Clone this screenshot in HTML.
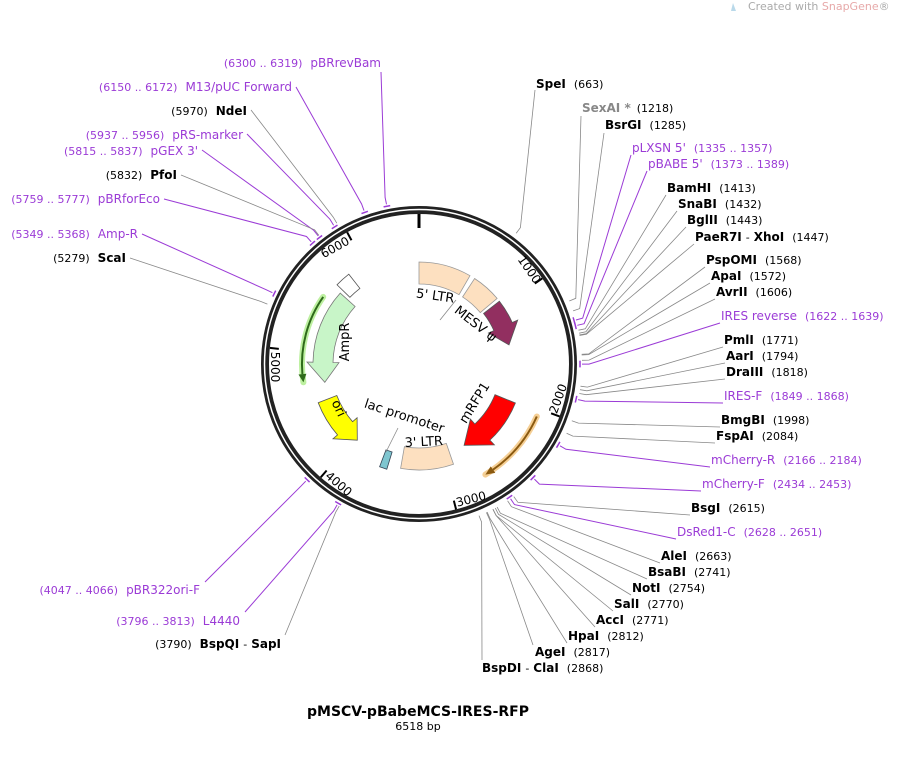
<!DOCTYPE html>
<html><head><meta charset="utf-8"><style>
html,body{margin:0;padding:0;background:#fff;width:900px;height:761px;overflow:hidden}
svg{display:block;font-family:"DejaVu Sans","Liberation Sans",sans-serif}
.n{font-weight:bold;font-size:12px;fill:#000}
.p{font-size:11px;fill:#000}
.pr{fill:#9b3bd6;font-size:12px}
.pr .p{fill:#9b3bd6}
.g{fill:#888;font-weight:bold;font-size:12px}
.in{font-size:13px;fill:#000}
</style></head><body>
<svg id="s" width="900" height="761" viewBox="0 0 900 761" xmlns="http://www.w3.org/2000/svg">
<g id="geo"></g>
<text x="748" y="10" font-size="11" fill="#aaa">Created with <tspan fill="#e7a9a9">SnapGene</tspan>®</text>
<path d="M733 3 l3 8 l-5 0 z" fill="#b9d9ea"/>

<text x="536" y="88"><tspan class="n">SpeI</tspan><tspan class="p" dx="8">(663)</tspan></text>
<text x="582" y="112"><tspan class="g">SexAI *</tspan><tspan class="p" dx="6">(1218)</tspan></text>
<text x="605" y="129"><tspan class="n">BsrGI</tspan><tspan class="p" dx="8">(1285)</tspan></text>
<text x="632" y="152" class="pr">pLXSN 5'<tspan class="p" dx="8">(1335 .. 1357)</tspan></text>
<text x="648" y="168" class="pr">pBABE 5'<tspan class="p" dx="8">(1373 .. 1389)</tspan></text>
<text x="667" y="192"><tspan class="n">BamHI</tspan><tspan class="p" dx="8">(1413)</tspan></text>
<text x="678" y="208"><tspan class="n">SnaBI</tspan><tspan class="p" dx="8">(1432)</tspan></text>
<text x="687" y="224"><tspan class="n">BglII</tspan><tspan class="p" dx="8">(1443)</tspan></text>
<text x="695" y="241"><tspan class="n">PaeR7I</tspan><tspan class="p" dx="4">-</tspan><tspan class="n" dx="4">XhoI</tspan><tspan class="p" dx="8">(1447)</tspan></text>
<text x="706" y="264"><tspan class="n">PspOMI</tspan><tspan class="p" dx="8">(1568)</tspan></text>
<text x="711" y="280"><tspan class="n">ApaI</tspan><tspan class="p" dx="8">(1572)</tspan></text>
<text x="716" y="296"><tspan class="n">AvrII</tspan><tspan class="p" dx="8">(1606)</tspan></text>
<text x="721" y="320" class="pr">IRES reverse<tspan class="p" dx="8">(1622 .. 1639)</tspan></text>
<text x="724" y="344"><tspan class="n">PmlI</tspan><tspan class="p" dx="8">(1771)</tspan></text>
<text x="726" y="360"><tspan class="n">AarI</tspan><tspan class="p" dx="8">(1794)</tspan></text>
<text x="726" y="376"><tspan class="n">DraIII</tspan><tspan class="p" dx="8">(1818)</tspan></text>
<text x="724" y="400" class="pr">IRES-F<tspan class="p" dx="8">(1849 .. 1868)</tspan></text>
<text x="721" y="424"><tspan class="n">BmgBI</tspan><tspan class="p" dx="8">(1998)</tspan></text>
<text x="716" y="440"><tspan class="n">FspAI</tspan><tspan class="p" dx="8">(2084)</tspan></text>
<text x="711" y="464" class="pr">mCherry-R<tspan class="p" dx="8">(2166 .. 2184)</tspan></text>
<text x="702" y="488" class="pr">mCherry-F<tspan class="p" dx="8">(2434 .. 2453)</tspan></text>
<text x="691" y="512"><tspan class="n">BsgI</tspan><tspan class="p" dx="8">(2615)</tspan></text>
<text x="677" y="536" class="pr">DsRed1-C<tspan class="p" dx="8">(2628 .. 2651)</tspan></text>
<text x="661" y="560"><tspan class="n">AleI</tspan><tspan class="p" dx="8">(2663)</tspan></text>
<text x="648" y="576"><tspan class="n">BsaBI</tspan><tspan class="p" dx="8">(2741)</tspan></text>
<text x="632" y="592"><tspan class="n">NotI</tspan><tspan class="p" dx="8">(2754)</tspan></text>
<text x="614" y="608"><tspan class="n">SalI</tspan><tspan class="p" dx="8">(2770)</tspan></text>
<text x="596" y="624"><tspan class="n">AccI</tspan><tspan class="p" dx="8">(2771)</tspan></text>
<text x="568" y="640"><tspan class="n">HpaI</tspan><tspan class="p" dx="8">(2812)</tspan></text>
<text x="535" y="656"><tspan class="n">AgeI</tspan><tspan class="p" dx="8">(2817)</tspan></text>
<text x="482" y="672"><tspan class="n">BspDI</tspan><tspan class="p" dx="4">-</tspan><tspan class="n" dx="4">ClaI</tspan><tspan class="p" dx="8">(2868)</tspan></text>

<g text-anchor="end">
<text x="381" y="67" class="pr"><tspan class="p">(6300 .. 6319)</tspan><tspan dx="8">pBRrevBam</tspan></text>
<text x="292" y="91" class="pr"><tspan class="p">(6150 .. 6172)</tspan><tspan dx="8">M13/pUC Forward</tspan></text>
<text x="247" y="115"><tspan class="p">(5970)</tspan><tspan class="n" dx="8">NdeI</tspan></text>
<text x="243" y="139" class="pr"><tspan class="p">(5937 .. 5956)</tspan><tspan dx="8">pRS-marker</tspan></text>
<text x="198" y="155" class="pr"><tspan class="p">(5815 .. 5837)</tspan><tspan dx="8">pGEX 3'</tspan></text>
<text x="177" y="179"><tspan class="p">(5832)</tspan><tspan class="n" dx="8">PfoI</tspan></text>
<text x="160" y="203" class="pr"><tspan class="p">(5759 .. 5777)</tspan><tspan dx="8">pBRforEco</tspan></text>
<text x="138" y="238" class="pr"><tspan class="p">(5349 .. 5368)</tspan><tspan dx="8">Amp-R</tspan></text>
<text x="126" y="262"><tspan class="p">(5279)</tspan><tspan class="n" dx="8">ScaI</tspan></text>
<text x="200" y="594" class="pr"><tspan class="p">(4047 .. 4066)</tspan><tspan dx="8">pBR322ori-F</tspan></text>
<text x="240" y="625" class="pr"><tspan class="p">(3796 .. 3813)</tspan><tspan dx="8">L4440</tspan></text>
<text x="281" y="648"><tspan class="p">(3790)</tspan><tspan class="n" dx="8">BspQI</tspan><tspan class="p" dx="4">-</tspan><tspan class="n" dx="4">SapI</tspan></text>
</g>

<g font-size="12" text-anchor="middle" fill="#000">
<text transform="translate(526,272) rotate(55)">1000</text>
<text transform="translate(562,400) rotate(-70)">2000</text>
<text transform="translate(472,503) rotate(-14)">3000</text>
<text transform="translate(336,487) rotate(41)">4000</text>
<text transform="translate(271,367) rotate(90)">5000</text>
<text transform="translate(337,251) rotate(-29)">6000</text>
</g>

<text class="in" x="416" y="300" transform="rotate(8 435 296)">5' LTR</text>
<text class="in" text-anchor="middle" transform="translate(473,327) rotate(38)">MESV ψ</text>
<text class="in" text-anchor="middle" transform="translate(349,342) rotate(-90)">AmpR</text>
<text class="in" text-anchor="middle" transform="translate(335,410) rotate(65)">ori</text>
<text class="in" text-anchor="middle" transform="translate(403,420) rotate(18)">lac promoter</text>
<text class="in" text-anchor="middle" transform="translate(424,446) rotate(-3)">3' LTR</text>
<text class="in" text-anchor="middle" transform="translate(478,405) rotate(-58)">mRFP1</text>

<text x="418" y="716" text-anchor="middle" font-weight="bold" font-size="14">pMSCV-pBabeMCS-IRES-RFP</text>
<text x="418" y="730" text-anchor="middle" font-size="11">6518 bp</text>
</svg>
<script>
(function(){
var cx=419,cy=364,NS="http://www.w3.org/2000/svg",g=document.getElementById('geo');
function P(a,r){a=a*Math.PI/180;return [cx+r*Math.sin(a),cy-r*Math.cos(a)];}
function f(p){return p[0].toFixed(1)+','+p[1].toFixed(1);}
function el(t,at){var e=document.createElementNS(NS,t);for(var k in at)e.setAttribute(k,at[k]);g.appendChild(e);return e;}
function bp(b){return b/6518*360;}
function arc(a1,a2,r){var l=Math.abs(a2-a1)>180?1:0,sw=a2>a1?1:0;return 'A'+r+','+r+' 0 '+l+' '+sw+' '+f(P(a2,r));}
function box(a1,a2,r1,r2,fill,st){el('path',{d:'M'+f(P(a1,r2))+arc(a1,a2,r2)+'L'+f(P(a2,r1))+arc(a2,a1,r1)+'Z',fill:fill,stroke:st||'#999','stroke-width':0.8});}
function arrow(a1,a2,r1,r2,h,fill,st){
 var d=a2>a1?1:-1,ab=a2-d*h,w=(r2-r1)*0.3,rm=(r1+r2)/2;
 el('path',{d:'M'+f(P(a1,r2))+arc(a1,ab,r2)+'L'+f(P(ab,r2+w))+'L'+f(P(a2,rm))+'L'+f(P(ab,r1-w))+'L'+f(P(ab,r1))+arc(ab,a1,r1)+'Z',fill:fill,stroke:st||'#555','stroke-width':0.8});}
function thin(a1,a2,r,col,glow){var d=a2>a1?1:-1,ab=a2-d*4;
 el('path',{d:'M'+f(P(a1,r))+arc(a1,a2,r),fill:'none',stroke:glow,'stroke-width':6,'stroke-linecap':'round'});
 el('path',{d:'M'+f(P(a1,r))+arc(a1,ab,r),fill:'none',stroke:col,'stroke-width':2});
 el('path',{d:'M'+f(P(ab,r+4))+'L'+f(P(a2,r))+'L'+f(P(ab,r-4))+'Z',fill:col});}
var R=[[663,535,90,0],[1218,581,116,0],[1285,604,133,0],[1346,631,155,1],[1381,647,171,1],[1413,666,195,0],[1432,677,211,0],[1443,686,227,0],[1447,694,244,0],[1568,705,267,0],[1572,710,283,0],[1606,715,299,0],[1630,720,323,1],[1771,723,347,0],[1794,725,363,0],[1818,725,379,0],[1858,723,403,1],[1998,720,427,0],[2084,715,443,0],[2175,710,467,1],[2443,701,491,1],[2615,690,515,0],[2640,676,539,1],[2663,660,563,0],[2741,647,579,0],[2754,631,595,0],[2770,613,611,0],[2771,595,627,0],[2812,567,643,0],[2817,533,645,0],[2868,482,660,0],
[6310,381,72,1],[6161,296,87,1],[5970,251,110,0],[5946,247,134,1],[5826,202,150,1],[5832,181,175,0],[5768,164,199,1],[5358,142,234,1],[5279,130,258,0],[4056,205,582,1],[3805,245,612,1],[3790,285,635,0]];
R.forEach(function(l){var a=bp(l[0]),p1=P(a,163),p2=P(a,170);var c=l[3]?'#9b3bd6':'#888';
 el('polyline',{points:l[1]+','+l[2]+' '+f(p2)+' '+f(p1),fill:'none',stroke:c,'stroke-width':l[3]?1:0.8});
 if(l[3]){el('path',{d:'M'+f(P(a-1.2,161))+arc(a-1.2,a+1.2,161),fill:'none',stroke:c,'stroke-width':1.5});}});
el('circle',{cx:cx,cy:cy,r:154,fill:'none',stroke:'#222','stroke-width':8});
el('circle',{cx:cx,cy:cy,r:154.5,fill:'none',stroke:'#fff','stroke-width':1.5});
el('line',{x1:P(0,150)[0],y1:P(0,150)[1],x2:P(0,136)[0],y2:P(0,136)[1],stroke:'#000','stroke-width':3});
[1000,2000,3000,4000,5000,6000].forEach(function(b){var a=bp(b),p=P(a,150),q=P(a,141);el('line',{x1:p[0],y1:p[1],x2:q[0],y2:q[1],stroke:'#000','stroke-width':2});});
box(0,30,80,102,'#fde0c0');
box(33,50,80,102,'#fde0c0');
el('line',{x1:456,y1:300,x2:440,y2:320,stroke:'#888','stroke-width':0.8});
arrow(52,78,82,102,12,'#922f60');
arrow(112,151,82,104,14,'#ff0000');
thin(114,149,129,'#8b5a10','#f5cf95');
box(161,190,84,106,'#fde0c0');
el('path',{d:'M'+f(P(197,92))+'L'+f(P(197,110))+'L'+f(P(201,110))+'L'+f(P(201,92))+'Z',fill:'#7fc6d0',stroke:'#345','stroke-width':0.8});
el('line',{x1:386,y1:452,x2:398,y2:428,stroke:'#888','stroke-width':0.8});
arrow(249,219,88,108,10,'#ffff00');
arrow(312,259,86,106,12,'#c8f5c8','#777');
thin(305,261,117,'#2e6a1a','#bdf0a0');
box(314,322,96,114,'#fff','#555');
})();
</script>
</body></html>
